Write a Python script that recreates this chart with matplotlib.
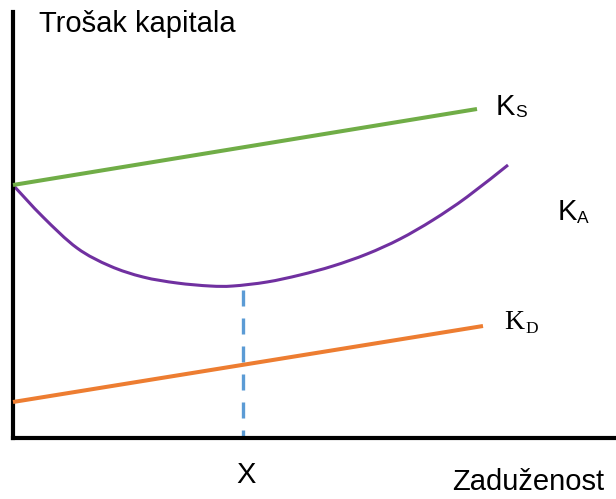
import matplotlib
matplotlib.use("Agg")
import matplotlib.pyplot as plt
from matplotlib.path import Path
from matplotlib.patches import PathPatch

# Data (chart units: x = zaduženost, y = trošak kapitala)
ks_x = [0, 464]
ks_y = [253, 329]
kd_x = [0, 470]
kd_y = [36, 112]
ka_x = [0, 30, 64, 97, 130, 164, 197, 220, 254, 287, 320, 354, 387, 420, 454, 495]
ka_y = [253, 221, 190, 172, 161, 155, 152, 152, 156, 163, 172, 184, 199, 218, 241, 273]
x_opt = 230
x_opt_top = 148

W, H = 616, 499
fig = plt.figure(figsize=(W / 100, H / 100), dpi=100)
ox, oy, top = 13, 438, 12
ax = fig.add_axes([ox / W, (H - oy) / H, (W - ox) / W, (oy - top) / H])
ax.set_xlim(0, W - ox)
ax.set_ylim(0, oy - top)
for s in ["top", "right"]:
    ax.spines[s].set_visible(False)
for s in ["left", "bottom"]:
    ax.spines[s].set_linewidth(3)
    ax.spines[s].set_color("black")
    ax.spines[s].set_capstyle("projecting")
ax.set_xticks([])
ax.set_yticks([])
ax.patch.set_alpha(0)

sans = "Liberation Sans"
serif = "Liberation Serif"

ax.plot(ks_x, ks_y, color="#70AD47", lw=2.9, solid_capstyle="butt", clip_on=False, zorder=3)
ax.plot(kd_x, kd_y, color="#ED7D31", lw=2.9, solid_capstyle="butt", clip_on=False, zorder=3)

# smooth curve through K_A points (Catmull-Rom -> cubic Bezier segments)
pts = list(zip(ka_x, ka_y))
verts = [pts[0]]
codes = [Path.MOVETO]
n = len(pts)
for i in range(n - 1):
    p0 = pts[i - 1] if i > 0 else pts[i]
    p1 = pts[i]
    p2 = pts[i + 1]
    p3 = pts[i + 2] if i + 2 < n else pts[i + 1]
    c1 = (p1[0] + (p2[0] - p0[0]) / 6, p1[1] + (p2[1] - p0[1]) / 6)
    c2 = (p2[0] - (p3[0] - p1[0]) / 6, p2[1] - (p3[1] - p1[1]) / 6)
    verts += [c1, c2, p2]
    codes += [Path.CURVE4] * 3
ax.add_patch(PathPatch(Path(verts, codes), facecolor="none", edgecolor="#7030A0",
                       lw=2.2, capstyle="butt", clip_on=False, zorder=2))

ax.plot([x_opt, x_opt], [x_opt_top, 0], color="#5B9BD5", lw=2.4,
        linestyle=(0, (4.8, 3.6)), dash_capstyle="butt", clip_on=False, zorder=1)

ax.text(26, 406, "Trošak kapitala", fontsize=21, family=sans, va="baseline", ha="left", clip_on=False)
ax.text(483, 323, "K", fontsize=21, family=sans, va="baseline", ha="left", clip_on=False)
ax.text(502, 321, "S", fontsize=12.5, family=sans, va="baseline", ha="left", clip_on=False)
ax.text(545, 218, "K", fontsize=21, family=sans, va="baseline", ha="left", clip_on=False)
ax.text(564, 215, "A", fontsize=12.5, family=sans, va="baseline", ha="left", clip_on=False)
ax.text(491, 109, "K", fontsize=20, family=serif, va="baseline", ha="left", clip_on=False)
ax.text(512, 105, "D", fontsize=12.5, family=serif, va="baseline", ha="left", clip_on=False)
ax.text(233, -45, "X", fontsize=21, family=sans, va="baseline", ha="center", clip_on=False)
ax.text(439, -52, "Zaduženost", fontsize=21, family=sans, va="baseline", ha="left", clip_on=False)

fig.savefig("out.png", dpi=100, facecolor="white")
